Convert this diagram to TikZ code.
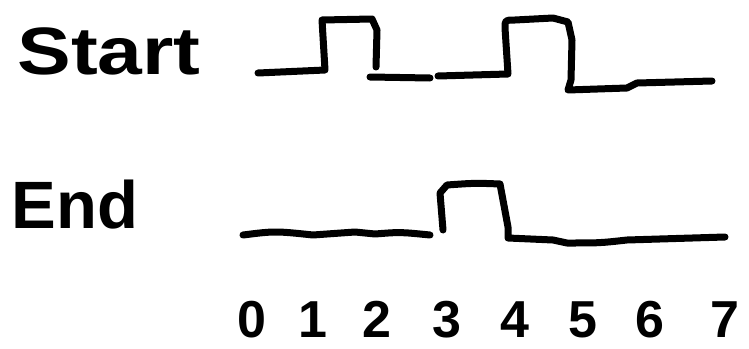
\documentclass[tikz,border=0pt]{standalone}
\usepackage{fontspec}
\setmainfont{Liberation Sans}
\begin{document}
\begin{tikzpicture}[x=1pt,y=-1pt,
  wave/.style={line width=7pt,line cap=round,line join=round,black},
  lbl/.style={font=\fontsize{67}{67}\selectfont\bfseries,anchor=base,inner sep=0pt},
  tick/.style={font=\fontsize{52}{52}\selectfont\bfseries,anchor=base,inner sep=0pt}]
\useasboundingbox (0,0) rectangle (749,348);
% labels
\node[lbl,xscale=1.2] (start) at (109,74) {Start};
\node[lbl] (end) at (75,228) {End};
% Start waveform
\draw[wave] (258,73) -- (325,70) -- (322,20) -- (372,19) -- (377,30) -- (376,67);
\draw[wave] (370,77) -- (430,78);
\draw[wave] (438,76) -- (508,74) -- (505,28) .. controls (505,20) .. (515,20) -- (553,18) -- (568,22) -- (572,40) -- (571,80) -- (568,90) -- (627,88) -- (637,83) -- (712,81);
% End waveform
\draw[wave] (243,235) .. controls (275,231) .. (313,235) -- (355,232) -- (375,234) .. controls (400,232) .. (430,235);
\draw[wave] (443,230) -- (440,193) -- (447,185) .. controls (475,183) .. (500,184) -- (508,227) -- (508,238) -- (553,240) -- (567,243) .. controls (600,243) .. (627,240) -- (725,237);
% time ticks
\foreach \n/\x in {0/252,1/313,2/377,3/447,4/515,5/583,6/650,7/725}
  \node[tick] (t\n) at (\x,337) {\n};
\end{tikzpicture}
\end{document}
